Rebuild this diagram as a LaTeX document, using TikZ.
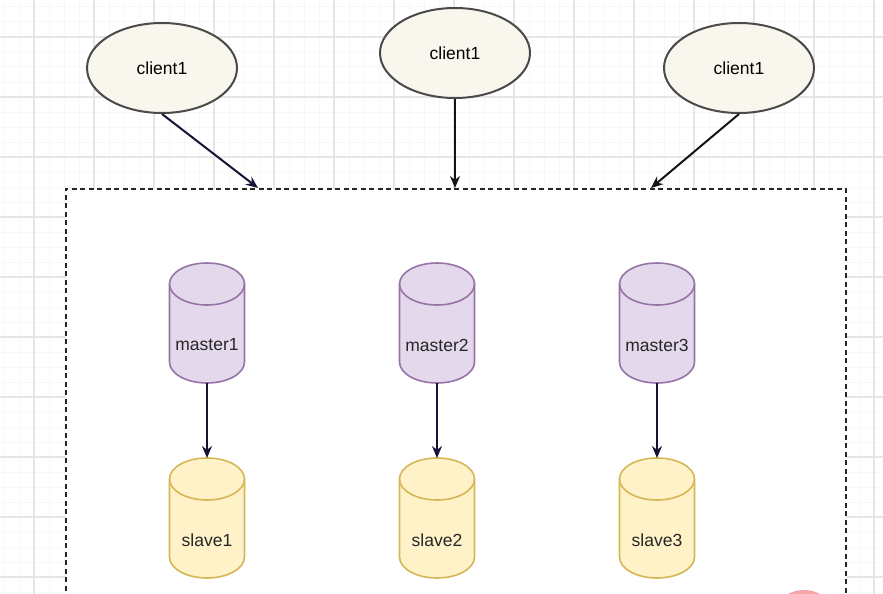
\documentclass[tikz,border=0pt]{standalone}
\usepackage{fontspec}
\setmainfont{Liberation Sans}
\usetikzlibrary{shapes.geometric,arrows.meta,calc}
\definecolor{gridminor}{HTML}{F7F7F7}
\definecolor{gridmajor}{HTML}{E6E6E6}
\definecolor{clientfill}{HTML}{F9F7ED}
\definecolor{clientdraw}{HTML}{4A4A4A}
\definecolor{masterfill}{HTML}{E4D9EC}
\definecolor{masterdraw}{HTML}{9673A6}
\definecolor{slavefill}{HTML}{FFF2C8}
\definecolor{slavedraw}{HTML}{D6B656}
\definecolor{arrowdark}{HTML}{1C1036}
\definecolor{arrowblack}{HTML}{141414}
\definecolor{recdot}{HTML}{F4A6A6}
\newcommand\cylshape[3]{%
  \path[fill=#2,draw=#3,line width=1.6pt]
    ($(#1.north west)+(0pt,-21pt)$) -- ($(#1.south west)+(0pt,21pt)$)
    arc[start angle=180,end angle=360,x radius=37.5pt,y radius=21pt]
    -- ($(#1.north east)+(0pt,-21pt)$)
    arc[start angle=0,end angle=180,x radius=37.5pt,y radius=21pt] -- cycle;
  \draw[#3,line width=1.6pt] ($(#1.north west)+(0pt,-21pt)$)
    arc[start angle=180,end angle=360,x radius=37.5pt,y radius=21pt];}
\tikzset{
  client/.style={ellipse,draw=clientdraw,fill=clientfill,line width=2pt,
    minimum width=150pt,minimum height=90pt,inner sep=0pt,font=\fontsize{17.5}{20}\selectfont},
  cylbox/.style={rectangle,minimum width=75pt,minimum height=120pt,inner sep=0pt,outer sep=0pt},
  lbl/.style={font=\fontsize{17.5}{20}\selectfont,text=black!85,inner sep=0pt},
  arr/.style={line width=2pt,-{Stealth[length=12pt,width=10pt]}},
}
\begin{document}
\begin{tikzpicture}[x=1pt,y=-1pt]
\useasboundingbox (0,0) rectangle (883,594);
\begin{scope}
\clip (0,0) rectangle (883,594);
\fill[white] (0,0) rectangle (883,594);
% grid
\foreach \x in {4,19,...,883} \draw[gridminor,line width=1pt] (\x,0) -- (\x,594);
\foreach \y in {7,22,...,594} \draw[gridminor,line width=1pt] (0,\y) -- (883,\y);
\foreach \x in {34,94,...,883} \draw[gridmajor,line width=1.2pt] (\x,0) -- (\x,594);
\foreach \y in {37,97,...,594} \draw[gridmajor,line width=1.2pt] (0,\y) -- (883,\y);
% cluster box
\node[draw=black!85,fill=white,dash pattern=on 5pt off 3.5pt,line width=1.8pt,
  minimum width=780pt,minimum height=440pt,anchor=north west,inner sep=0pt] (cluster) at (65,188) {};
\coordinate (t1) at (258,188);
\coordinate (t2) at (455,188);
\coordinate (t3) at (651,188);
% clients
\node[client] (c1) at (162,68) {client1};
\node[client] (c2) at (455,53) {client1};
\node[client] (c3) at (739,68) {client1};
\draw[arr,arrowdark] (c1.south) -- (t1);
\draw[arr,arrowblack] (c2.south) -- (t2);
\draw[arr,arrowblack] (c3.south) -- (t3);
% cylinders
\node[cylbox] (m1) at (207,323) {};
\node[cylbox] (m2) at (437,323) {};
\node[cylbox] (m3) at (657,323) {};
\node[cylbox] (s1) at (207,518) {};
\node[cylbox] (s2) at (437,518) {};
\node[cylbox] (s3) at (657,518) {};
\cylshape{m1}{masterfill}{masterdraw}
\cylshape{m2}{masterfill}{masterdraw}
\cylshape{m3}{masterfill}{masterdraw}
\cylshape{s1}{slavefill}{slavedraw}
\cylshape{s2}{slavefill}{slavedraw}
\cylshape{s3}{slavefill}{slavedraw}
\node[lbl] (m1t) at (207,345) {master1};
\node[lbl] (m2t) at (437,345) {master2};
\node[lbl] (m3t) at (657,345) {master3};
\node[lbl] (s1t) at (207,540) {slave1};
\node[lbl] (s2t) at (437,540) {slave2};
\node[lbl] (s3t) at (657,540) {slave3};
\draw[arr,arrowdark] (m1.south) -- (s1.north);
\draw[arr,arrowdark] (m2.south) -- (s2.north);
\draw[arr,arrowdark] (m3.south) -- (s3.north);
% recording dot
\fill[recdot] (804,624) circle[radius=34pt];
\end{scope}
\end{tikzpicture}
\end{document}
